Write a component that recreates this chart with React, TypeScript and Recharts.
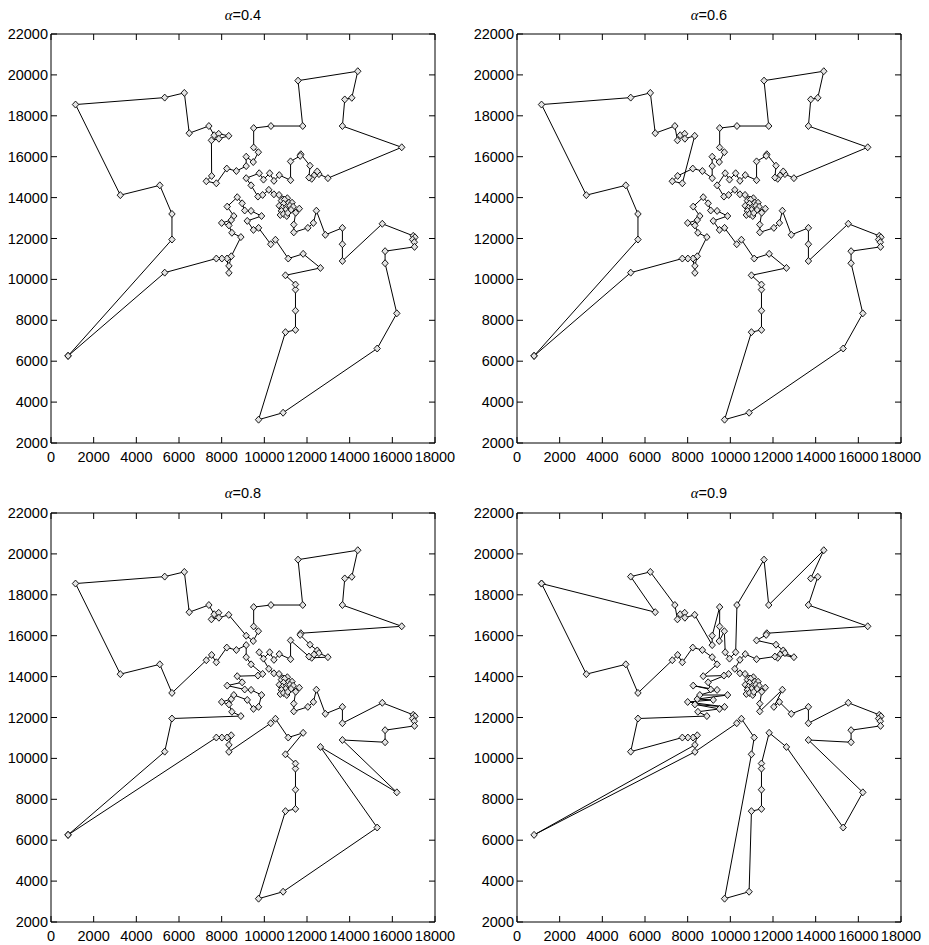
import React from 'react';
import { ScatterChart, Scatter, XAxis, YAxis, ReferenceArea } from 'recharts';

// City coordinates (index = city number - 1)
const CITIES: [number, number][] = [
  [800, 6260], [5670, 11950], [5670, 13200], [5100, 14600], [3250, 14120],
  [1150, 18550], [5330, 18890], [6250, 19120], [6480, 17150], [7400, 17500],
  [7650, 17050], [7520, 16800], [7860, 17120], [7870, 16880], [8330, 17020],
  [7530, 15060], [7280, 14800], [7750, 14700], [8240, 15420], [8690, 15300],
  [9150, 14950], [9150, 15540], [9150, 16000], [9480, 15740], [9720, 16220],
  [9500, 16450], [9500, 17400], [10310, 17500], [11800, 17500], [11580, 19720],
  [14380, 20180], [14100, 18880], [13770, 18800], [13660, 17500], [16440, 16460],
  [12980, 14950], [12560, 15150], [12480, 15280], [12330, 15080], [12220, 14920],
  [12090, 14980], [12140, 15560], [11710, 16120], [11680, 16040], [11230, 15770],
  [11230, 14850], [10700, 15100], [10450, 14820], [10250, 15190], [9960, 14880],
  [9760, 15190], [9380, 14600], [9700, 14050], [9920, 14130], [10210, 14380],
  [10450, 14160], [10690, 14130], [11080, 13970], [11640, 13460], [11470, 13260],
  [11380, 12680], [11380, 12300], [12040, 12520], [12300, 12760], [12440, 13360],
  [12860, 12180], [13660, 12520], [13660, 11720], [13660, 10900], [15530, 12720],
  [16980, 12130], [17060, 12060], [16950, 11950], [17030, 11820], [17040, 11590],
  [15660, 11380], [15660, 10790], [16210, 8340], [15290, 6620], [10880, 3480],
  [9730, 3140], [10990, 7420], [11460, 7530], [11460, 8470], [11460, 9500],
  [11460, 9750], [10990, 10200], [12630, 10560], [11820, 11250], [11120, 11020],
  [10520, 11940], [10300, 11720], [9730, 12520], [9490, 12420], [9200, 12860],
  [9870, 13100], [9380, 13350], [9080, 13370], [8960, 13720], [8730, 14020],
  [8260, 13560], [8570, 13100], [8450, 12900], [8000, 12760], [8340, 12640],
  [8480, 12280], [8900, 12070], [8450, 11130], [8340, 10660], [8340, 10320],
  [8250, 11020], [8010, 11020], [7750, 11020], [5330, 10330],
  // dense core
  [10800, 13850], [10950, 13900], [11150, 13750], [10900, 13700], [10700, 13600],
  [10850, 13500], [11050, 13550], [11200, 13600], [11000, 13400], [10800, 13350],
  [10900, 13200], [11100, 13250], [11250, 13400], [11350, 13550], [11300, 13750],
  [11050, 13100], [10750, 13150],
];

const CORE = [115, 116, 118, 119, 120, 121, 117, 129, 122, 128, 127, 123, 124, 131, 125, 130, 126];

const TOUR_A04 = [
  1, 2, 3, 4, 5, 6, 7, 8, 9, 10, 11, 13, 15, 14, 12, 16, 17, 18, 19, 20, 22, 23, 24, 25, 26, 27,
  28, 29, 30, 31, 32, 33, 34, 35, 36, 37, 38, 39, 40, 41, 42, 43, 44, 45, 46, 47, 48, 49, 50, 51,
  21, 52, 53, 54, 55, 56, 57, 58, ...CORE, 59, 60, 61, 62, 63, 64, 65, 66, 67, 68, 69, 70, 71,
  72, 73, 74, 75, 76, 77, 78, 79, 80, 81, 82, 83, 84, 85, 86, 87, 88, 89, 90, 91, 92, 93, 94, 95,
  96, 97, 98, 99, 100, 101, 102, 103, 104, 105, 106, 107, 108, 109, 110, 111, 112, 113, 114,
];

const TOUR_A06 = [
  1, 2, 3, 4, 5, 6, 7, 8, 9, 10, 12, 11, 13, 14, 15, 18, 17, 16, 19, 20, 21, 22, 23, 24, 25, 26,
  27, 28, 29, 30, 31, 32, 33, 34, 35, 36, 37, 38, 39, 40, 41, 42, 43, 44, 45, 46, 47, 48, 49, 50,
  51, 52, 53, 54, 55, 56, 57, 58, ...CORE, 59, 60, 61, 62, 63, 64, 65, 66, 67, 68, 69, 70, 71,
  72, 73, 74, 75, 76, 77, 78, 79, 80, 81, 82, 83, 84, 85, 86, 87, 88, 89, 90, 91, 92, 93, 94, 95,
  96, 97, 98, 99, 100, 101, 102, 103, 104, 105, 106, 107, 108, 109, 110, 111, 112, 113, 114,
];

const TOUR_A08 = [
  1, 114, 2, 107, 106, 105, 104, 103, 102, 95, 94, 93, 96, 97, 98, 101, 99, 100, 53, 54, 52, 21,
  22, 20, 19, 18, 16, 17, 3, 4, 5, 6, 7, 8, 9, 10, 11, 13, 12, 14, 15, 23, 24, 25, 26, 27, 28, 29,
  30, 31, 32, 33, 34, 35, 43, 44, 42, 38, 37, 36, 40, 39, 41, 45, 46, 47, 48, 49, 50, 51, 55, 56,
  57, 58, ...CORE, 59, 60, 61, 62, 63, 64, 65, 66, 67, 68, 70, 71, 72, 73, 74, 75, 76, 77, 69, 78,
  88, 79, 80, 81, 82, 83, 84, 85, 86, 87, 89, 90, 91, 92, 110, 109, 108, 111, 112, 113,
];

const TOUR_A09 = [
  6, 9, 7, 8, 10, 12, 11, 13, 14, 15, 22, 23, 27, 26, 24, 25, 51, 50, 49, 28, 30, 29, 31, 33, 32,
  34, 35, 43, 44, 45, 42, 38, 37, 36, 39, 40, 41, 46, 47, 48, 55, 56, 57, 58, ...CORE, 59, 60, 61,
  62, 65, 63, 64, 66, 67, 68, 70, 71, 72, 73, 74, 75, 76, 77, 69, 78, 79, 88, 89, 86, 85, 84, 83,
  82, 80, 81, 87, 90, 91, 92, 110, 1, 109, 108, 111, 112, 113, 114, 2, 107, 106, 94, 105, 93, 104,
  95, 103, 96, 102, 97, 101, 98, 99, 54, 53, 100, 52, 21, 20, 19, 18, 16, 17, 3, 4, 5,
];

const ALPHAS = ['0.4', '0.6', '0.8', '0.9'];
const TOURS = [TOUR_A04, TOUR_A06, TOUR_A08, TOUR_A09];
const X_TICKS = [0, 2000, 4000, 6000, 8000, 10000, 12000, 14000, 16000, 18000];
const Y_TICKS = [2000, 4000, 6000, 8000, 10000, 12000, 14000, 16000, 18000, 20000, 22000];

const FONT = '"Liberation Sans", Arial, Helvetica, sans-serif';
const CW = 465;
const CH = 472;
const PW = 384;
const PH = 409;
const TICK = 6;

const XTick = (props: any) => {
  const { x, y, payload } = props;
  return (
    <g>
      <line x1={x} y1={y} x2={x} y2={y - TICK} stroke="#000" strokeWidth={1} />
      <line x1={x} y1={y - PH} x2={x} y2={y - PH + TICK} stroke="#000" strokeWidth={1} />
      <text x={x} y={y + 19} textAnchor="middle" fontSize={14.5} fontFamily={FONT} fill="#000">
        {payload.value}
      </text>
    </g>
  );
};

const YTick = (props: any) => {
  const { x, y, payload } = props;
  return (
    <g>
      <line x1={x} y1={y} x2={x + TICK} y2={y} stroke="#000" strokeWidth={1} />
      <line x1={x + PW} y1={y} x2={x + PW - TICK} y2={y} stroke="#000" strokeWidth={1} />
      <text x={x - 3} y={y + 5} textAnchor="end" fontSize={14.5} fontFamily={FONT} fill="#000">
        {payload.value}
      </text>
    </g>
  );
};

const Diamond = (props: any) => {
  const { cx, cy } = props;
  if (cx == null || cy == null) return null;
  return (
    <path
      d={`M${cx},${cy - 3.5}L${cx + 3.2},${cy}L${cx},${cy + 3.5}L${cx - 3.2},${cy}Z`}
      fill="#e4e4e4"
      stroke="#000"
      strokeWidth={0.9}
    />
  );
};

function Panel({ tour, left, top }: { tour: number[]; left: number; top: number }) {
  const data = [...tour, tour[0]].map((c) => ({ x: CITIES[c - 1][0], y: CITIES[c - 1][1] }));
  return (
    <div style={{ position: 'absolute', left, top, width: CW, height: CH }}>
      <ScatterChart width={CW} height={CH} margin={{ top: 34, right: 30, bottom: 0, left: 0 }}>
        <XAxis
          dataKey="x"
          type="number"
          domain={[0, 18000]}
          ticks={X_TICKS}
          interval={0}
          height={29}
          tickSize={0}
          tickMargin={0}
          axisLine={false}
          tickLine={false}
          tick={<XTick />}
        />
        <YAxis
          dataKey="y"
          type="number"
          domain={[2000, 22000]}
          ticks={Y_TICKS}
          interval={0}
          width={51}
          tickSize={0}
          tickMargin={0}
          axisLine={false}
          tickLine={false}
          tick={<YTick />}
        />
        <ReferenceArea
          x1={0}
          x2={18000}
          y1={2000}
          y2={22000}
          fill="none"
          fillOpacity={0}
          stroke="#000"
          strokeWidth={1}
          strokeOpacity={1}
          ifOverflow="visible"
        />
        <Scatter
          data={data}
          line={{ stroke: '#000', strokeWidth: 1 }}
          lineType="joint"
          shape={Diamond}
          isAnimationActive={false}
        />
      </ScatterChart>
    </div>
  );
}

const POS = [
  { left: 0, top: 0, cx: 243, ty: 20 },
  { left: 466, top: 0, cx: 709, ty: 20 },
  { left: 0, top: 479, cx: 243, ty: 498 },
  { left: 466, top: 479, cx: 709, ty: 498 },
];

export default function App() {
  return (
    <div style={{ position: 'absolute', left: 0, top: 0, width: 929, height: 945, background: '#fff' }}>
      {TOURS.map((t, i) => (
        <Panel key={i} tour={t} left={POS[i].left} top={POS[i].top} />
      ))}
      <svg width={929} height={945} style={{ position: 'absolute', left: 0, top: 0, pointerEvents: 'none' }}>
        {ALPHAS.map((a, i) => (
          <text key={i} x={POS[i].cx} y={POS[i].ty} textAnchor="middle" fontSize={14.5} fill="#000">
            <tspan fontFamily='"Liberation Serif", "DejaVu Serif", serif' fontStyle="italic">α</tspan>
            <tspan fontFamily={FONT}>={a}</tspan>
          </text>
        ))}
      </svg>
    </div>
  );
}
